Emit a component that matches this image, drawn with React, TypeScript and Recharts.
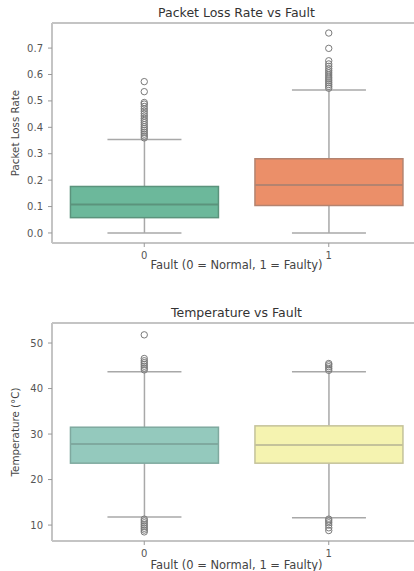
import { Bar, ComposedChart, ReferenceLine, Scatter, XAxis, YAxis } from "recharts";

// categories
const faults = ["0", "1"];

// packet loss rate boxes (per fault group)
const lossLow = [0.0, 0.0];
const lossQ1 = [0.058, 0.104];
const lossMedian = [0.108, 0.182];
const lossQ3 = [0.176, 0.281];
const lossHigh = [0.354, 0.541];
const lossOutliersNormal = [
  0.36, 0.367, 0.374, 0.381, 0.388, 0.395, 0.402, 0.41, 0.418, 0.426, 0.434, 0.443, 0.452, 0.461, 0.47, 0.479,
  0.488, 0.494, 0.535, 0.573,
];
const lossOutliersFaulty = [
  0.548, 0.555, 0.562, 0.569, 0.576, 0.583, 0.59, 0.598, 0.606, 0.614, 0.622, 0.631, 0.64, 0.652, 0.699, 0.757,
];
const lossTicks = [0, 0.1, 0.2, 0.3, 0.4, 0.5, 0.6, 0.7];

// temperature boxes
const tempLow = [11.8, 11.6];
const tempQ1 = [23.6, 23.6];
const tempMedian = [27.8, 27.6];
const tempQ3 = [31.5, 31.8];
const tempHigh = [43.7, 43.7];
const tempOutliersNormal = [
  44.1, 44.5, 44.9, 45.3, 45.7, 46.1, 46.6, 51.8, 11.3, 10.9, 10.5, 10.1, 9.7, 9.3, 8.9, 8.5,
];
const tempOutliersFaulty = [44.0, 44.4, 44.8, 45.2, 45.5, 11.3, 10.9, 10.5, 10.0, 9.4, 8.8];
const tempTicks = [10, 20, 30, 40, 50];

const lossColors = [
  { fill: "#6cb89b", edge: "#5b937c" },
  { fill: "#eb8f69", edge: "#b4836f" },
];
const tempColors = [
  { fill: "#94c9bd", edge: "#7fa99f" },
  { fill: "#f5f3b0", edge: "#c4c29a" },
];

const FRAME = "#c4c4c4";
const WHISKER = "#a8a8a8";
const FONT = "DejaVu Sans, sans-serif";

const buildBoxes = (low: number[], q1: number[], med: number[], q3: number[], high: number[]) =>
  faults.map((f, i) => ({ fault: f, low: low[i], q1: q1[i], median: med[i], q3: q3[i], high: high[i] }));

const buildOutliers = (normal: number[], faulty: number[]) => [
  ...normal.map((v) => ({ fault: faults[0], value: v })),
  ...faulty.map((v) => ({ fault: faults[1], value: v })),
];

function makeBoxShape(colors: { fill: string; edge: string }[]) {
  return (props: any) => {
    const { x, y, width, height, payload, index } = props;
    const { low, q1, median, q3, high } = payload;
    const k = height / (high - low);
    const py = (v: number) => y + (high - v) * k;
    const cx = x + width / 2;
    const cap = width / 4;
    const c = colors[index] ?? colors[0];
    return (
      <g>
        <line x1={cx} x2={cx} y1={py(high)} y2={py(q3)} stroke={WHISKER} strokeWidth={1.5} />
        <line x1={cx} x2={cx} y1={py(q1)} y2={py(low)} stroke={WHISKER} strokeWidth={1.5} />
        <line x1={cx - cap} x2={cx + cap} y1={py(high)} y2={py(high)} stroke={WHISKER} strokeWidth={1.5} />
        <line x1={cx - cap} x2={cx + cap} y1={py(low)} y2={py(low)} stroke={WHISKER} strokeWidth={1.5} />
        <rect x={x} y={py(q3)} width={width} height={py(q1) - py(q3)} fill={c.fill} stroke={c.edge} strokeWidth={1.5} />
        <line x1={x} x2={x + width} y1={py(median)} y2={py(median)} stroke={c.edge} strokeWidth={2} />
      </g>
    );
  };
}

const Flier = (p: any) => <circle cx={p.cx} cy={p.cy} r={3.2} fill="none" stroke="#7a7a7a" strokeWidth={1} />;

function SideLabel({ viewBox, text }: any) {
  const cx = viewBox.x + 15;
  const cy = viewBox.y + viewBox.height / 2;
  return (
    <text
      x={cx}
      y={cy}
      transform={`rotate(-90, ${cx}, ${cy})`}
      textAnchor="middle"
      dominantBaseline="central"
      fill="#444"
      fontSize={10.3}
      fontFamily={FONT}
    >
      {text}
    </text>
  );
}

function BoxPanel({
  height,
  bottom,
  title,
  yLabel,
  domain,
  ticks,
  fmt,
  boxes,
  outliers,
  colors,
  labelOffset,
}: {
  height: number;
  bottom: number;
  title: string;
  yLabel: string;
  domain: [number, number];
  ticks: number[];
  fmt: (v: number) => string;
  boxes: ReturnType<typeof buildBoxes>;
  outliers: { fault: string; value: number }[];
  colors: { fill: string; edge: string }[];
  labelOffset: number;
}) {
  return (
    <ComposedChart width={422} height={height} data={boxes} margin={{ top: 23, right: 1, bottom, left: 0 }} barCategoryGap="10%">
      <XAxis
        dataKey="fault"
        allowDuplicatedCategory={false}
        height={30}
        tickSize={4}
        tickMargin={5}
        axisLine={{ stroke: FRAME, strokeWidth: 2 }}
        tickLine={{ stroke: "#999" }}
        tick={{ fill: "#555", fontSize: 10, fontFamily: FONT }}
        label={{ value: "Fault (0 = Normal, 1 = Faulty)", position: "insideBottom", offset: labelOffset, fill: "#444", fontSize: 11.5, fontFamily: FONT }}
      />
      <YAxis
        type="number"
        domain={domain}
        allowDataOverflow
        ticks={ticks}
        tickFormatter={fmt}
        width={52}
        tickSize={4}
        tickMargin={5}
        axisLine={{ stroke: FRAME, strokeWidth: 2 }}
        tickLine={{ stroke: "#999" }}
        tick={{ fill: "#555", fontSize: 10, fontFamily: FONT }}
        label={{ content: (p: any) => <SideLabel viewBox={p.viewBox} text={yLabel} /> }}
      />
      <ReferenceLine
        y={domain[1]}
        stroke={FRAME}
        strokeWidth={2}
        label={{ value: title, position: "top", offset: 6, fill: "#333", fontSize: 12.5, fontFamily: FONT }}
      />
      <Bar dataKey={(d: any) => [d.low, d.high]} shape={makeBoxShape(colors)} isAnimationActive={false} />
      <Scatter data={outliers} dataKey="value" shape={Flier} isAnimationActive={false} />
    </ComposedChart>
  );
}

export default function App() {
  const lossBoxes = buildBoxes(lossLow, lossQ1, lossMedian, lossQ3, lossHigh);
  const tempBoxes = buildBoxes(tempLow, tempQ1, tempMedian, tempQ3, tempHigh);
  return (
    <div style={{ position: "absolute", left: 0, top: 0, width: 414, height: 571, overflow: "hidden", background: "#fff", fontFamily: FONT }}>
      <div style={{ position: "absolute", left: 0, top: 0 }}>
        <BoxPanel
          height={300}
          bottom={27}
          title="Packet Loss Rate vs Fault"
          yLabel="Packet Loss Rate"
          domain={[-0.038, 0.795]}
          ticks={lossTicks}
          fmt={(v) => v.toFixed(1)}
          boxes={lossBoxes}
          outliers={buildOutliers(lossOutliersNormal, lossOutliersFaulty)}
          colors={lossColors}
          labelOffset={4}
        />
      </div>
      <div style={{ position: "absolute", left: 0, top: 300 }}>
        <BoxPanel
          height={271}
          bottom={0}
          title="Temperature vs Fault"
          yLabel="Temperature (°C)"
          domain={[6.5, 54.4]}
          ticks={tempTicks}
          fmt={(v) => String(v)}
          boxes={tempBoxes}
          outliers={buildOutliers(tempOutliersNormal, tempOutliersFaulty)}
          colors={tempColors}
          labelOffset={2}
        />
      </div>
    </div>
  );
}
